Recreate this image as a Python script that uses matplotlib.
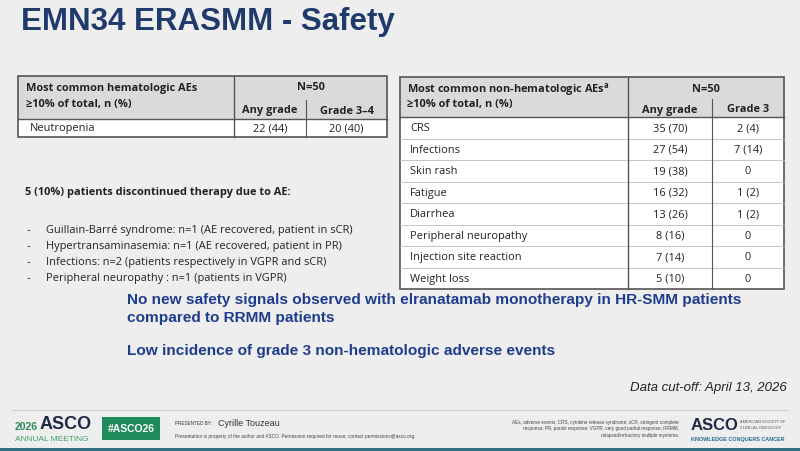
import matplotlib
matplotlib.use("Agg")
import matplotlib.pyplot as plt
from matplotlib.patches import Rectangle

title = "EMN34 ERASMM - Safety"
heme_header = ["Most common hematologic AEs", "≥10% of total, n (%)"]
heme_cols = ["Any grade", "Grade 3–4"]
heme_rows = ["Neutropenia"]
heme_any = ["22 (44)"]
heme_g34 = ["20 (40)"]

nonheme_cols = ["Any grade", "Grade 3"]
nonheme_rows = ["CRS", "Infections", "Skin rash", "Fatigue", "Diarrhea",
                "Peripheral neuropathy", "Injection site reaction", "Weight loss"]
nonheme_any = ["35 (70)", "27 (54)", "19 (38)", "16 (32)", "13 (26)", "8 (16)", "7 (14)", "5 (10)"]
nonheme_g3 = ["2 (4)", "7 (14)", "0", "1 (2)", "1 (2)", "0", "0", "0"]

disc_title = "5 (10%) patients discontinued therapy due to AE:"
disc_items = ["Guillain-Barré syndrome: n=1 (AE recovered, patient in sCR)",
              "Hypertransaminasemia: n=1 (AE recovered, patient in PR)",
              "Infections: n=2 (patients respectively in VGPR and sCR)",
              "Peripheral neuropathy : n=1 (patients in VGPR)"]

BG = "#eeeeee"
HDR = "#dadada"
NAVY = "#1f3a6b"
BLUE = "#1f3d8c"
LINE = "#555555"
FS = 7.9
tf = "Open Sans"
LS = "Liberation Sans"

fig = plt.figure(figsize=(8, 4.52), dpi=100, facecolor=BG)
ax = fig.add_axes([0, 0, 1, 1])
ax.set_xlim(0, 800); ax.set_ylim(452, 0); ax.axis("off")

ax.text(21, 22, title, fontsize=22.5, fontweight="bold", color=NAVY, va="center", family=LS)

def t(x, y, s, **kw):
    kw.setdefault("fontsize", FS)
    kw.setdefault("family", tf)
    kw.setdefault("color", "#222")
    kw.setdefault("va", "center")
    ax.text(x, y, s, **kw)

# left table
x0, x1, xc1, xc2 = 18, 387, 234, 306
y0, yh, yb = 77, 120, 138
ax.add_patch(Rectangle((x0, y0), x1 - x0, yh - y0, fc=HDR, ec="none"))
ax.add_patch(Rectangle((x0, yh), x1 - x0, yb - yh, fc="white", ec="none"))
ax.add_patch(Rectangle((x0, y0), x1 - x0, yb - y0, fc="none", ec=LINE, lw=1.2))
ax.plot([x0, x1], [yh, yh], color=LINE, lw=1)
ax.plot([xc1, xc1], [y0, yb], color=LINE, lw=1)
ax.plot([xc2, xc2], [101, yb], color=LINE, lw=0.8)
t(26, 89, heme_header[0], fontweight="bold")
t(26, 104, heme_header[1], fontweight="bold")
t((xc1 + x1) / 2, 88, "N=50", fontweight="bold", ha="center")
t((xc1 + xc2) / 2, 111, heme_cols[0], fontweight="bold", ha="center")
t((xc2 + x1) / 2, 111, heme_cols[1], fontweight="bold", ha="center")
for i, r in enumerate(heme_rows):
    yy = yh + 9 + i * 18
    t(30, yy, r)
    t((xc1 + xc2) / 2, yy, heme_any[i], ha="center")
    t((xc2 + x1) / 2, yy, heme_g34[i], ha="center")

# right table
X0, X1, XC1, XC2 = 400, 784, 628, 712
Y0, YH = 78, 118
rh = 21.5
YB = YH + rh * len(nonheme_rows)
ax.add_patch(Rectangle((X0, Y0), X1 - X0, YH - Y0, fc=HDR, ec="none"))
ax.add_patch(Rectangle((X0, YH), X1 - X0, YB - YH, fc="white", ec="none"))
for i in range(1, len(nonheme_rows)):
    ax.plot([X0, X1], [YH + i * rh] * 2, color="#bbbbbb", lw=0.6)
ax.add_patch(Rectangle((X0, Y0), X1 - X0, YB - Y0, fc="none", ec=LINE, lw=1.2))
ax.plot([X0, X1], [YH, YH], color=LINE, lw=1)
ax.plot([XC1, XC1], [Y0, YB], color=LINE, lw=1)
ax.plot([XC2, XC2], [100, YB], color=LINE, lw=0.8)
t(407, 90, "Most common non-hematologic AEs$^{\\mathregular{a}}$", fontweight="bold")
t(407, 105, "≥10% of total, n (%)", fontweight="bold")
t((XC1 + X1) / 2, 89, "N=50", fontweight="bold", ha="center")
t((XC1 + XC2) / 2, 110, nonheme_cols[0], fontweight="bold", ha="center")
t((XC2 + X1) / 2, 110, nonheme_cols[1], fontweight="bold", ha="center")
for i, r in enumerate(nonheme_rows):
    yy = YH + rh * (i + 0.5)
    t(410, yy, r)
    t((XC1 + XC2) / 2, yy, nonheme_any[i], ha="center")
    t((XC2 + X1) / 2, yy, nonheme_g3[i], ha="center")

# discontinuation text
t(25, 193, disc_title, fontweight="bold")
for i, s in enumerate(disc_items):
    yy = 231 + 16 * i
    t(27, yy, "-")
    t(46, yy, s)

# key messages
t(127, 300, "No new safety signals observed with elranatamab monotherapy in HR-SMM patients",
  fontsize=11.1, fontweight="bold", color=BLUE, family=LS)
t(127, 318, "compared to RRMM patients", fontsize=11.1, fontweight="bold", color=BLUE, family=LS)
t(127, 351, "Low incidence of grade 3 non-hematologic adverse events", fontsize=11.1,
  fontweight="bold", color=BLUE, family=LS)
t(787, 388, "Data cut-off: April 13, 2026", fontsize=9.5, style="italic", ha="right", family=LS)

# footer
ax.plot([12, 788], [411, 411], color="#d0d0d0", lw=0.8)
t(15, 427, "2026", fontsize=7.5, color="#2e8b57", fontweight="bold", family=LS)
t(40, 425, "ASCO", fontsize=13, color="#1f2a44", fontweight="bold", family=LS)
t(15, 440, "ANNUAL MEETING", fontsize=6, color="#3aa36b", family=LS)
ax.add_patch(Rectangle((102, 418), 58, 23, fc="#1f8a5a", ec="none"))
t(131, 429.5, "#ASCO26", fontsize=7.5, color="white", fontweight="bold", ha="center", family=LS)
t(175, 424, "PRESENTED BY:", fontsize=3.3, color="#333", family=LS)
t(218, 424, "Cyrille Touzeau", fontsize=6.5, color="#333", family=LS)
t(175, 437, "Presentation is property of the author and ASCO. Permission required for reuse; contact permissions@asco.org.",
  fontsize=3.4, color="#444", family=LS)
t(679, 429, "AEs, adverse events; CRS, cytokine release syndrome; sCR, stringent complete\n"
  "response; PR, partial response; VGPR, very good partial response; RRMM,\n"
  "relapsed/refractory multiple myeloma.", fontsize=3.3, color="#444", ha="right", family=LS,
  linespacing=1.4, multialignment="right")
t(691, 426, "ASCO", fontsize=12, color="#1f2a44", fontweight="bold", family=LS)
t(740, 425, "AMERICAN SOCIETY OF\nCLINICAL ONCOLOGY", fontsize=2.8, color="#555", family=LS, linespacing=1.4)
t(691, 440, "KNOWLEDGE CONQUERS CANCER", fontsize=3.9, color="#1f6b8c", fontweight="bold", family=LS)
ax.add_patch(Rectangle((0, 449), 800, 3, fc="#2f6f7f", ec="none"))
fig.savefig("out.png", dpi=100, facecolor=BG)
